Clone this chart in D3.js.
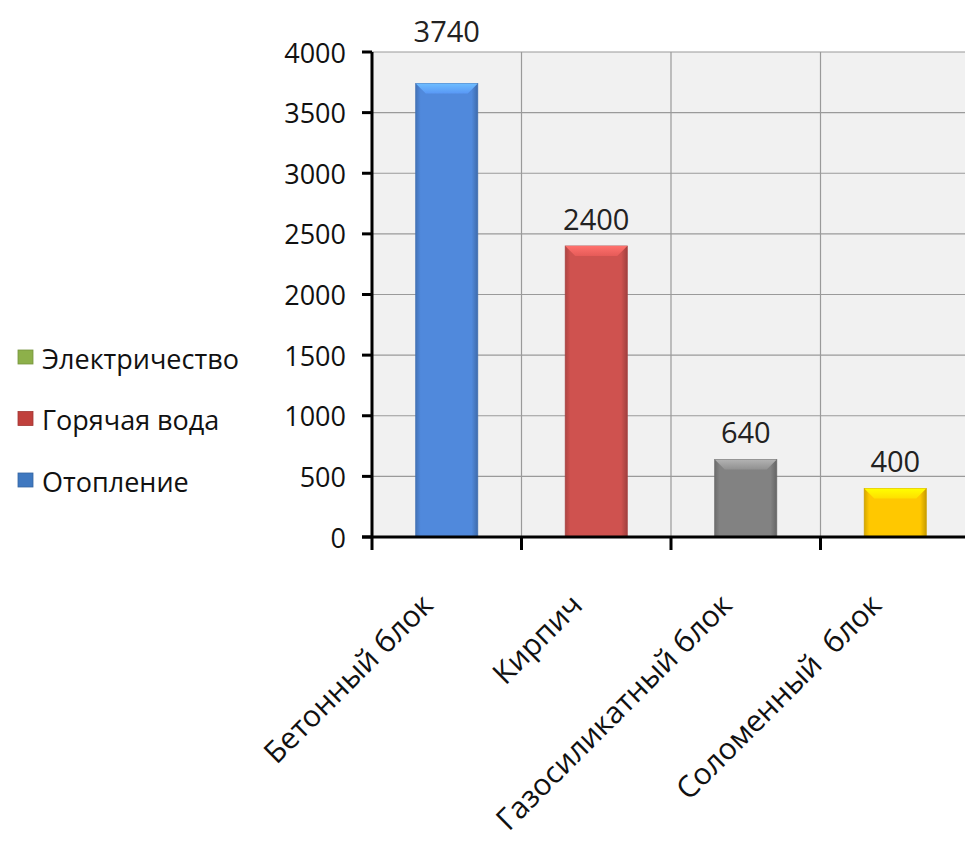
<!DOCTYPE html>
<html><head><meta charset="utf-8">
<script src="https://cdn.jsdelivr.net/npm/d3@7"></script>
<style>html,body{margin:0;padding:0;background:#fff;}svg{display:block;}</style>
</head><body>
<script>
const categories = ["Бетонный блок", "Кирпич", "Газосиликатный блок", "Соломенный  блок"];
const values = [3740, 2400, 640, 400];
const barColors = ["#5089dc", "#cf524f", "#828282", "#ffc800"];
const yTicks = [0, 500, 1000, 1500, 2000, 2500, 3000, 3500, 4000];
const legendLabels = ["Электричество", "Горячая вода", "Отопление"];
const legendColors = ["#8db04a", "#c0403c", "#3f78c0"];

(function () {
const W = 965, H = 845;
const font = "'Open Sans', 'Noto Sans', sans-serif";
const svg = d3.select("body").append("svg").attr("width", W).attr("height", H);

const pLeft = 372, pTop = 52, pBottom = 537, pRight = 970;
const x = d3.scaleBand().domain(categories).range([pLeft, pRight]).padding(0);
const y = d3.scaleLinear().domain([0, 4000]).range([pBottom, pTop]);
const barW = x.bandwidth() * 0.415;

svg.append("rect").attr("x", pLeft).attr("y", y(4000)).attr("width", pRight - pLeft).attr("height", y(0) - y(4000)).attr("fill", "#f1f1f1");

svg.append("g").selectAll("line").data(yTicks.filter(d => d > 0)).join("line")
  .attr("x1", pLeft).attr("x2", pRight).attr("y1", d => y(d)).attr("y2", d => y(d))
  .attr("stroke", "#9a9a9a").attr("stroke-width", 1.2);
svg.append("g").selectAll("line").data(categories.slice(1)).join("line")
  .attr("x1", d => x(d)).attr("x2", d => x(d)).attr("y1", y(4000)).attr("y2", y(0))
  .attr("stroke", "#9a9a9a").attr("stroke-width", 1.2);

const defs = svg.append("defs");
barColors.forEach((c, i) => {
  const base = d3.color(c);
  const g = defs.append("linearGradient").attr("id", "bg" + i).attr("x1", "0").attr("x2", "1").attr("y1", "0").attr("y2", "0");
  g.append("stop").attr("offset", "0").attr("stop-color", base.darker(0.5));
  g.append("stop").attr("offset", "0.08").attr("stop-color", base);
  g.append("stop").attr("offset", "0.9").attr("stop-color", base);
  g.append("stop").attr("offset", "1").attr("stop-color", base.darker(0.7));
  const t = defs.append("linearGradient").attr("id", "tg" + i).attr("x1", "0").attr("x2", "0").attr("y1", "0").attr("y2", "1");
  t.append("stop").attr("offset", "0").attr("stop-color", base.brighter(0.9));
  t.append("stop").attr("offset", "1").attr("stop-color", base.brighter(0.3));
});

const data = categories.map((c, i) => ({c, v: values[i], i}));
const bars = svg.append("g").selectAll("g").data(data).join("g");
bars.append("rect")
  .attr("x", d => x(d.c) + (x.bandwidth() - barW) / 2)
  .attr("y", d => y(d.v))
  .attr("width", barW)
  .attr("height", d => y(0) - y(d.v))
  .attr("fill", d => `url(#bg${d.i})`)
  .attr("stroke", d => d3.color(barColors[d.i]).darker(0.6))
  .attr("stroke-width", 0.8);
const bev = 10;
bars.append("polygon")
  .attr("points", d => {
    const x0 = x(d.c) + (x.bandwidth() - barW) / 2, x1 = x0 + barW, yt = y(d.v);
    return [[x0, yt], [x1, yt], [x1 - bev, yt + bev], [x0 + bev, yt + bev]].map(p => p.join(",")).join(" ");
  })
  .attr("fill", d => `url(#tg${d.i})`);

bars.append("text")
  .attr("x", d => x(d.c) + x.bandwidth() / 2)
  .attr("y", d => (y(d.v) - 28 < pTop + 20) ? pTop - 22 : y(d.v) - 28)
  .attr("text-anchor", "middle").attr("dominant-baseline", "central")
  .attr("font-family", font).attr("font-size", 29).attr("fill", "#222")
  .text(d => d.v);

svg.append("line").attr("x1", pLeft).attr("x2", pLeft).attr("y1", y(4000)).attr("y2", y(0) + 13).attr("stroke", "#000").attr("stroke-width", 3);
svg.append("line").attr("x1", pLeft - 10).attr("x2", pRight).attr("y1", y(0)).attr("y2", y(0)).attr("stroke", "#000").attr("stroke-width", 3);
svg.append("g").selectAll("line").data(yTicks).join("line")
  .attr("x1", pLeft - 10).attr("x2", pLeft).attr("y1", d => y(d)).attr("y2", d => y(d))
  .attr("stroke", "#000").attr("stroke-width", 3);
svg.append("g").selectAll("line").data(categories.slice(1)).join("line")
  .attr("x1", d => x(d)).attr("x2", d => x(d)).attr("y1", y(0)).attr("y2", y(0) + 13)
  .attr("stroke", "#000").attr("stroke-width", 3);
svg.append("g").selectAll("text").data(yTicks).join("text")
  .attr("x", pLeft - 26).attr("y", d => y(d))
  .attr("text-anchor", "end").attr("dominant-baseline", "central")
  .attr("font-family", font).attr("font-size", 27).attr("fill", "#111")
  .text(d => d);

svg.append("g").selectAll("text").data(categories).join("text")
  .attr("transform", d => `translate(${x(d) + x.bandwidth() / 2 - 12},${y(0) + 70}) rotate(-45)`)
  .attr("text-anchor", "end")
  .attr("font-family", font).attr("font-size", 30).attr("fill", "#111")
  .style("white-space", "pre")
  .text(d => d);

const lg = svg.append("g").selectAll("g").data(legendLabels).join("g")
  .attr("transform", (d, i) => `translate(18,${357 + i * 61.5})`);
lg.append("rect").attr("x", 0).attr("y", -7).attr("width", 15).attr("height", 14)
  .attr("fill", (d, i) => legendColors[i]).attr("stroke", (d, i) => d3.color(legendColors[i]).darker(0.5)).attr("stroke-width", 0.8);
lg.append("text").attr("x", 24).attr("y", 1).attr("dominant-baseline", "central")
  .attr("font-family", font).attr("font-size", 27).attr("fill", "#111")
  .text(d => d);
})();
</script>
</body></html>
